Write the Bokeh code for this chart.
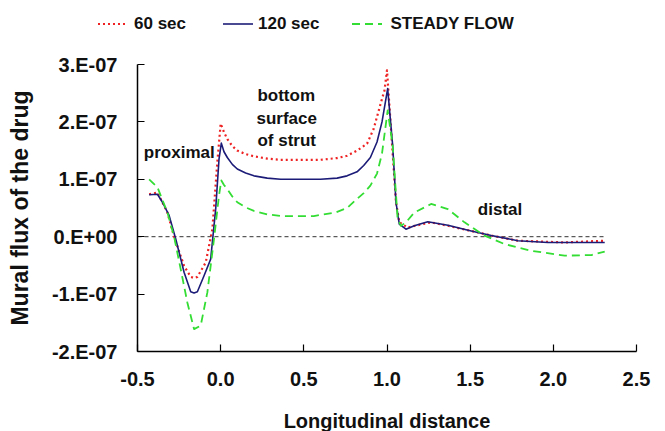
from bokeh.plotting import figure
from bokeh.layouts import column
from bokeh.models import Label, FixedTicker, CustomJSTickFormatter, Range1d, Div
from bokeh.embed import file_html
from bokeh.resources import INLINE

# ---- data (y in units of 1e-7) ----
x_60 = [-0.43, -0.38, -0.32, -0.28, -0.22, -0.18, -0.16, -0.14, -0.09, -0.05, -0.02, 0.0, 0.02, 0.04, 0.07,
        0.10, 0.15, 0.20, 0.28, 0.36, 0.60, 0.70, 0.76, 0.82, 0.88, 0.92, 0.96, 0.985, 1.0, 1.024, 1.054,
        1.074, 1.124, 1.184, 1.265, 1.366, 1.506, 1.627, 1.787, 2.068, 2.309]
y_60 = [0.74, 0.77, 0.42, 0.0, -0.51, -0.70, -0.72, -0.70, -0.45, 0.13, 1.30, 1.97, 1.82, 1.70, 1.58,
        1.50, 1.44, 1.40, 1.36, 1.34, 1.34, 1.37, 1.41, 1.50, 1.62, 1.88, 2.30, 2.55, 2.90, 1.88, 0.60,
        0.25, 0.16, 0.20, 0.25, 0.19, 0.10, 0.02, -0.07, -0.10, -0.07]

x_120 = [-0.43, -0.38, -0.35, -0.31, -0.27, -0.22, -0.18, -0.16, -0.14, -0.10, -0.06, -0.03, -0.01, 0.004,
         0.02, 0.04, 0.07, 0.10, 0.15, 0.20, 0.28, 0.36, 0.60, 0.70, 0.76, 0.82, 0.86, 0.90, 0.94, 0.97,
         1.004, 1.034, 1.054, 1.074, 1.114, 1.164, 1.245, 1.366, 1.506, 1.627, 1.787, 1.968, 2.309]
y_120 = [0.73, 0.74, 0.60, 0.37, -0.04, -0.62, -0.96, -0.98, -0.96, -0.68, -0.39, 0.48, 1.35, 1.63,
         1.48, 1.38, 1.26, 1.18, 1.11, 1.06, 1.02, 1.00, 1.00, 1.02, 1.06, 1.13, 1.24, 1.38, 1.65, 2.00,
         2.58, 1.59, 0.60, 0.22, 0.13, 0.19, 0.26, 0.20, 0.10, 0.02, -0.07, -0.10, -0.10]

x_steady = [-0.43, -0.38, -0.32, -0.28, -0.24, -0.20, -0.16, -0.12, -0.08, -0.04, -0.01, 0.004, 0.02, 0.04,
            0.07, 0.10, 0.15, 0.20, 0.28, 0.36, 0.56, 0.69, 0.76, 0.82, 0.86, 0.90, 0.94, 0.97, 1.004,
            1.034, 1.064, 1.084, 1.114, 1.164, 1.265, 1.366, 1.466, 1.586, 1.707, 1.867, 2.068, 2.229, 2.309]
y_steady = [1.00, 0.86, 0.42, 0.0, -0.57, -1.15, -1.61, -1.55, -0.97, -0.04, 0.72, 0.98, 0.90, 0.83,
            0.70, 0.60, 0.51, 0.45, 0.39, 0.36, 0.36, 0.42, 0.50, 0.66, 0.76, 0.89, 1.10, 1.45, 2.20,
            1.59, 0.31, 0.19, 0.25, 0.42, 0.57, 0.48, 0.25, 0.02, -0.13, -0.245, -0.33, -0.32, -0.26]

zero_x = [-0.5, 2.309]
zero_y = [0.0, 0.0]

x_ticks = [-0.5, 0.0, 0.5, 1.0, 1.5, 2.0, 2.5]
y_ticks = [-2e-7, -1e-7, 0.0, 1e-7, 2e-7, 3e-7]

series_names = ["60 sec", "120 sec", "STEADY FLOW"]

SCALE = 1e-7
FONT = "Liberation Sans"

colors = ["#ee2222", "#1c1c78", "#33dd33"]
widths = [2.2, 1.6, 1.8]
dashes = ["2 3", "solid", "8 5"]

# ---------------- main chart ----------------
p = figure(width=665, height=387, frame_width=499, frame_height=287,
           output_backend="svg", toolbar_location=None,
           x_range=Range1d(-0.5, 2.5), y_range=Range1d(-2e-7, 3e-7),
           min_border_left=137, min_border_right=29, min_border_top=20, min_border_bottom=80)
p.outline_line_color = None
p.xgrid.visible = False
p.ygrid.visible = False

p.line(zero_x, zero_y, line_color="#333333", line_width=1, line_dash="4 3")

for xs, ys, c, w, d in zip([x_60, x_120, x_steady], [y_60, y_120, y_steady], colors, widths, dashes):
    p.line(xs, [v * SCALE for v in ys], line_color=c, line_width=w, line_dash=d, line_join="round")

for ax in (p.xaxis[0], p.yaxis[0]):
    ax.axis_line_color = "black"
    ax.axis_line_width = 1.5
    ax.major_tick_in = 7
    ax.major_tick_out = 0
    ax.major_tick_line_color = "black"
    ax.major_tick_line_width = 1.2
    ax.minor_tick_line_color = None
    ax.major_label_text_font = FONT
    ax.major_label_text_font_style = "bold"
    ax.major_label_text_font_size = "20px"
    ax.major_label_text_color = "#111111"
    ax.axis_label_text_font = FONT
    ax.axis_label_text_font_style = "bold"
    ax.axis_label_text_color = "#111111"

p.xaxis[0].ticker = FixedTicker(ticks=x_ticks)
p.xaxis[0].formatter = CustomJSTickFormatter(code="return tick.toFixed(1);")
p.xaxis[0].major_label_standoff = 20
p.xaxis[0].axis_label = "Longitudinal distance"
p.xaxis[0].axis_label_text_font_size = "20px"
p.xaxis[0].axis_label_standoff = 21

p.yaxis[0].ticker = FixedTicker(ticks=y_ticks)
p.yaxis[0].formatter = CustomJSTickFormatter(code="""
const e = Math.round(tick / 1e-7);
return e === 0 ? "0.E+00" : e + ".E-07";
""")
p.yaxis[0].major_label_standoff = 20
p.yaxis[0].axis_label = "Mural flux of the drug"
p.yaxis[0].axis_label_text_font_size = "23px"
p.yaxis[0].axis_label_standoff = 16

ann = dict(text_font=FONT, text_font_style="bold", text_font_size="17px",
           text_color="#111111", text_baseline="middle", text_align="left")
p.add_layout(Label(x=-0.462, y=1.46 * SCALE, text="proximal", **ann))
p.add_layout(Label(x=0.221, y=2.46 * SCALE, text="bottom", **ann))
p.add_layout(Label(x=0.215, y=2.065 * SCALE, text="surface", **ann))
p.add_layout(Label(x=0.221, y=1.675 * SCALE, text="of strut", **ann))
p.add_layout(Label(x=1.546, y=0.48 * SCALE, text="distal", **ann))

# ---------------- legend strip (HTML) ----------------
lead = [98, 37, 33]      # space before each legend sample
gaps = [6, 5, 8]         # space between sample and label
items_html = ""
for name, c, w, d, l, g in zip(series_names, colors, widths, dashes, lead, gaps):
    dash_attr = "" if d == "solid" else f' stroke-dasharray="{d}"'
    items_html += (
        f'<span style="display:inline-block;width:{l}px"></span>'
        f'<svg width="30" height="8" style="vertical-align:middle">'
        f'<line x1="0" y1="4" x2="30" y2="4" stroke="{c}" stroke-width="{w}"{dash_attr}/></svg>'
        f'<span style="display:inline-block;width:{g}px"></span>'
        f'<span style="vertical-align:middle">{name}</span>'
    )
legend_html = (
    f'<div style="width:665px;height:44px;display:flex;align-items:center;white-space:nowrap;'
    f'padding-top:3px;box-sizing:border-box;'
    f'font-family:\'{FONT}\';font-weight:bold;font-size:17px;color:#111111;line-height:20px;">'
    f'{items_html}</div>'
)
legend_div = Div(text=legend_html, width=665, height=44, margin=(0, 0, 0, 0))

layout = column(legend_div, p, spacing=0)
open("out.html", "w").write(file_html(layout, INLINE))
